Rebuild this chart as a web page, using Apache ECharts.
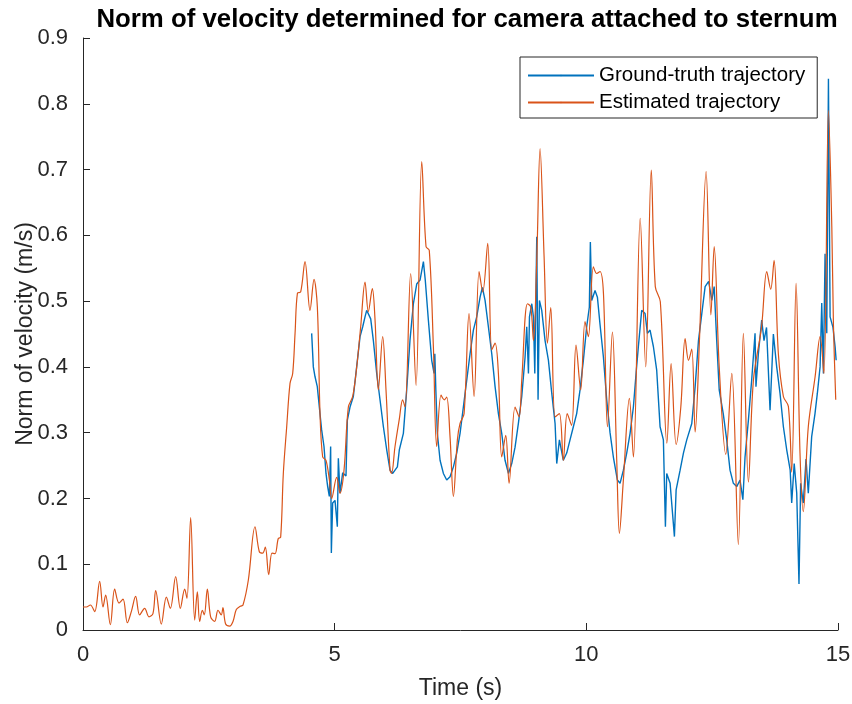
<!DOCTYPE html>
<html>
<head>
<meta charset="utf-8">
<script src="https://cdn.jsdelivr.net/npm/echarts@6/dist/echarts.min.js"></script>
<style>
  html, body { margin: 0; padding: 0; background: #fff; }
  #chart { width: 852px; height: 704px; }
</style>
</head>
<body>
<div id="chart"></div>
<script>
// estimated trajectory (orange)
var estTime = [0, 0.066, 0.146, 0.232, 0.331, 0.397, 0.45, 0.543, 0.629, 0.715, 0.795, 0.881, 0.96, 1.046, 1.126, 1.225, 1.311, 1.39, 1.444, 1.556, 1.656, 1.735, 1.841, 1.934, 2.02, 2.066, 2.139, 2.219, 2.272, 2.318, 2.371, 2.41, 2.47, 2.536, 2.616, 2.682, 2.748, 2.78, 2.834, 2.914, 2.98, 3.046, 3.126, 3.179, 3.285, 3.417, 3.503, 3.57, 3.622, 3.689, 3.755, 3.815, 3.88, 3.927, 3.98, 4.047, 4.113, 4.166, 4.213, 4.26, 4.325, 4.411, 4.51, 4.59, 4.656, 4.709, 4.762, 4.828, 4.895, 4.941, 5.04, 5.106, 5.186, 5.272, 5.358, 5.438, 5.517, 5.603, 5.669, 5.748, 5.801, 5.868, 5.954, 6.02, 6.1, 6.13, 6.199, 6.285, 6.35, 6.398, 6.51, 6.617, 6.73, 6.815, 6.88, 6.961, 7.027, 7.113, 7.179, 7.226, 7.292, 7.359, 7.438, 7.491, 7.571, 7.67, 7.77, 7.869, 7.942, 8.041, 8.121, 8.187, 8.253, 8.319, 8.399, 8.465, 8.584, 8.664, 8.717, 8.83, 8.896, 8.949, 9.015, 9.081, 9.161, 9.227, 9.293, 9.379, 9.465, 9.543, 9.62, 9.707, 9.795, 9.888, 9.974, 10.04, 10.14, 10.207, 10.27, 10.34, 10.42, 10.518, 10.604, 10.657, 10.736, 10.855, 10.935, 11.07, 11.18, 11.29, 11.37, 11.47, 11.6, 11.684, 11.784, 11.877, 11.963, 12.03, 12.095, 12.162, 12.25, 12.38, 12.475, 12.54, 12.64, 12.77, 12.89, 13.02, 13.12, 13.22, 13.32, 13.48, 13.585, 13.663, 13.73, 13.815, 13.915, 14.014, 14.08, 14.167, 14.245, 14.31, 14.41, 14.545, 14.644, 14.72, 14.81, 14.877, 14.91, 14.955];
var estVel = [0.035, 0.035, 0.038, 0.028, 0.074, 0.035, 0.053, 0.008, 0.062, 0.041, 0.047, 0.011, 0.028, 0.051, 0.023, 0.033, 0.020, 0.025, 0.060, 0.009, 0.050, 0.033, 0.081, 0.033, 0.062, 0.048, 0.171, 0.015, 0.058, 0.013, 0.030, 0.023, 0.062, 0.020, 0.013, 0.030, 0.023, 0.034, 0.009, 0.006, 0.013, 0.031, 0.036, 0.038, 0.076, 0.157, 0.119, 0.117, 0.126, 0.084, 0.117, 0.116, 0.139, 0.141, 0.238, 0.309, 0.375, 0.39, 0.451, 0.512, 0.514, 0.56, 0.486, 0.533, 0.491, 0.329, 0.263, 0.258, 0.228, 0.20, 0.232, 0.208, 0.243, 0.339, 0.355, 0.40, 0.461, 0.529, 0.484, 0.519, 0.473, 0.365, 0.446, 0.365, 0.243, 0.238, 0.279, 0.321, 0.35, 0.339, 0.542, 0.372, 0.712, 0.583, 0.577, 0.431, 0.279, 0.357, 0.35, 0.354, 0.294, 0.203, 0.289, 0.314, 0.329, 0.481, 0.355, 0.545, 0.514, 0.588, 0.426, 0.436, 0.39, 0.263, 0.296, 0.223, 0.339, 0.324, 0.38, 0.496, 0.491, 0.44, 0.562, 0.732, 0.567, 0.436, 0.49, 0.324, 0.329, 0.258, 0.329, 0.311, 0.433, 0.365, 0.469, 0.446, 0.552, 0.542, 0.545, 0.512, 0.309, 0.453, 0.258, 0.147, 0.228, 0.352, 0.263, 0.626, 0.40, 0.699, 0.522, 0.499, 0.284, 0.405, 0.282, 0.339, 0.443, 0.41, 0.427, 0.301, 0.446, 0.697, 0.479, 0.583, 0.40, 0.267, 0.39, 0.13, 0.451, 0.225, 0.38, 0.46, 0.545, 0.518, 0.562, 0.42, 0.355, 0.34, 0.24, 0.527, 0.269, 0.18, 0.309, 0.385, 0.446, 0.39, 0.79, 0.613, 0.462, 0.35];

// ground-truth trajectory (blue)
var gtTime = [4.543, 4.576, 4.61, 4.655, 4.695, 4.74, 4.788, 4.828, 4.861, 4.894, 4.92, 4.934, 4.96, 5.007, 5.053, 5.073, 5.106, 5.159, 5.225, 5.252, 5.305, 5.371, 5.437, 5.504, 5.557, 5.603, 5.636, 5.669, 5.716, 5.769, 5.835, 5.901, 5.968, 6.034, 6.1, 6.153, 6.199, 6.246, 6.285, 6.365, 6.431, 6.497, 6.564, 6.63, 6.696, 6.763, 6.8, 6.862, 6.928, 6.975, 6.99, 7.01, 7.04, 7.094, 7.16, 7.226, 7.292, 7.359, 7.425, 7.491, 7.557, 7.624, 7.69, 7.756, 7.822, 7.889, 7.935, 7.988, 8.054, 8.121, 8.187, 8.253, 8.319, 8.385, 8.452, 8.518, 8.584, 8.65, 8.717, 8.783, 8.816, 8.85, 8.87, 8.916, 8.949, 8.976, 9.015, 9.041, 9.068, 9.114, 9.18, 9.247, 9.313, 9.379, 9.412, 9.465, 9.543, 9.61, 9.676, 9.742, 9.808, 9.875, 9.941, 10.007, 10.06, 10.08, 10.107, 10.173, 10.22, 10.27, 10.339, 10.405, 10.471, 10.537, 10.617, 10.67, 10.736, 10.802, 10.869, 10.935, 10.988, 11.034, 11.1, 11.167, 11.213, 11.266, 11.332, 11.398, 11.465, 11.531, 11.571, 11.597, 11.664, 11.75, 11.784, 11.863, 11.929, 11.995, 12.095, 12.162, 12.228, 12.294, 12.36, 12.43, 12.493, 12.54, 12.59, 12.64, 12.72, 12.789, 12.855, 12.921, 12.988, 13.054, 13.11, 13.153, 13.22, 13.285, 13.352, 13.37, 13.418, 13.484, 13.53, 13.58, 13.65, 13.716, 13.782, 13.848, 13.915, 13.981, 14.05, 14.08, 14.13, 14.18, 14.225, 14.258, 14.31, 14.365, 14.41, 14.477, 14.543, 14.59, 14.644, 14.677, 14.71, 14.743, 14.777, 14.81, 14.843, 14.9, 14.943, 14.963];
var gtVel = [0.451, 0.40, 0.385, 0.37, 0.339, 0.305, 0.279, 0.238, 0.218, 0.203, 0.279, 0.117, 0.193, 0.197, 0.157, 0.261, 0.208, 0.239, 0.234, 0.319, 0.339, 0.355, 0.40, 0.446, 0.461, 0.476, 0.486, 0.488, 0.473, 0.44, 0.39, 0.35, 0.309, 0.274, 0.243, 0.238, 0.243, 0.248, 0.274, 0.299, 0.365, 0.441, 0.496, 0.526, 0.532, 0.56, 0.532, 0.471, 0.41, 0.39, 0.42, 0.365, 0.299, 0.258, 0.238, 0.228, 0.233, 0.248, 0.269, 0.299, 0.339, 0.38, 0.42, 0.456, 0.476, 0.506, 0.521, 0.501, 0.461, 0.42, 0.37, 0.329, 0.299, 0.258, 0.238, 0.253, 0.278, 0.314, 0.355, 0.415, 0.461, 0.39, 0.476, 0.496, 0.476, 0.39, 0.598, 0.35, 0.501, 0.486, 0.44, 0.41, 0.36, 0.314, 0.253, 0.289, 0.258, 0.269, 0.289, 0.309, 0.329, 0.365, 0.41, 0.461, 0.491, 0.59, 0.501, 0.516, 0.506, 0.466, 0.415, 0.35, 0.30, 0.263, 0.228, 0.223, 0.243, 0.269, 0.299, 0.339, 0.39, 0.431, 0.486, 0.481, 0.451, 0.456, 0.431, 0.395, 0.309, 0.289, 0.157, 0.238, 0.223, 0.142, 0.213, 0.243, 0.269, 0.289, 0.314, 0.37, 0.44, 0.481, 0.522, 0.53, 0.501, 0.522, 0.44, 0.365, 0.329, 0.289, 0.243, 0.223, 0.218, 0.228, 0.198, 0.263, 0.319, 0.38, 0.451, 0.37, 0.42, 0.471, 0.44, 0.46, 0.334, 0.45, 0.40, 0.36, 0.309, 0.274, 0.243, 0.193, 0.253, 0.208, 0.07, 0.223, 0.193, 0.26, 0.208, 0.294, 0.329, 0.36, 0.40, 0.497, 0.39, 0.572, 0.451, 0.838, 0.476, 0.46, 0.43, 0.41];

var xTicks = [0, 5, 10, 15];
var yTicks = [0, 0.1, 0.2, 0.3, 0.4, 0.5, 0.6, 0.7, 0.8, 0.9];

function zip(xs, ys) {
  return xs.map(function (x, i) { return [x, ys[i]]; });
}

var chart = echarts.init(document.getElementById('chart'), null, { renderer: 'canvas' });
var axisColor = '#262626';
var font = 'Arial, "Liberation Sans", Helvetica, sans-serif';

chart.setOption({
  animation: false,
  textStyle: { fontFamily: font },
  title: {
    text: 'Norm of velocity determined for camera attached to sternum',
    left: 462,
    top: 2,
    textAlign: 'center',
    textStyle: { fontSize: 25.8, fontWeight: 'bold', color: '#000', fontFamily: font }
  },
  grid: { left: 83, right: 14, top: 38, bottom: 74, containLabel: false, outerBoundsMode: 'none' },
  legend: {
    orient: 'vertical',
    left: 520,
    top: 57,
    itemWidth: 66,
    itemHeight: 2,
    itemGap: 6,
    padding: [8, 12, 5, 7],
    borderColor: axisColor,
    borderWidth: 1,
    backgroundColor: '#fff',
    textStyle: { fontSize: 20.5, color: '#000', fontFamily: font },
    data: ['Ground-truth trajectory', 'Estimated trajectory']
  },
  xAxis: {
    type: 'value',
    min: xTicks[0],
    max: xTicks[xTicks.length - 1],
    interval: 5,
    name: 'Time (s)',
    nameLocation: 'middle',
    nameGap: 47,
    nameMoveOverlap: false,
    nameTextStyle: { fontSize: 23, color: axisColor, fontFamily: font },
    axisLine: { lineStyle: { color: axisColor, width: 1 } },
    axisTick: { inside: true, length: 7, lineStyle: { color: axisColor } },
    axisLabel: { fontSize: 22, color: axisColor, margin: 14, fontFamily: font },
    splitLine: { show: false }
  },
  yAxis: {
    type: 'value',
    min: yTicks[0],
    max: yTicks[yTicks.length - 1],
    interval: 0.1,
    name: 'Norm of velocity (m/s)',
    nameLocation: 'middle',
    nameGap: 46,
    nameMoveOverlap: false,
    nameTextStyle: { fontSize: 23, color: axisColor, fontFamily: font },
    axisLine: { show: true, lineStyle: { color: axisColor, width: 1 } },
    axisTick: { show: true, inside: true, length: 7, lineStyle: { color: axisColor } },
    axisLabel: {
      fontSize: 22, color: axisColor, margin: 15, fontFamily: font,
      formatter: function (v) { return v === 0 ? '0' : v.toFixed(1); }
    },
    splitLine: { show: false }
  },
  series: [
    {
      name: 'Ground-truth trajectory',
      type: 'line',
      data: zip(gtTime, gtVel),
      symbol: 'none',
      lineStyle: { color: '#0072BD', width: 1.4 },
      itemStyle: { color: '#0072BD' },
      z: 2
    },
    {
      name: 'Estimated trajectory',
      type: 'line',
      data: zip(estTime, estVel),
      symbol: 'none',
      smooth: 0.35,
      lineStyle: { color: '#D95319', width: 1.2 },
      itemStyle: { color: '#D95319' },
      z: 3
    }
  ]
});
</script>
</body>
</html>
